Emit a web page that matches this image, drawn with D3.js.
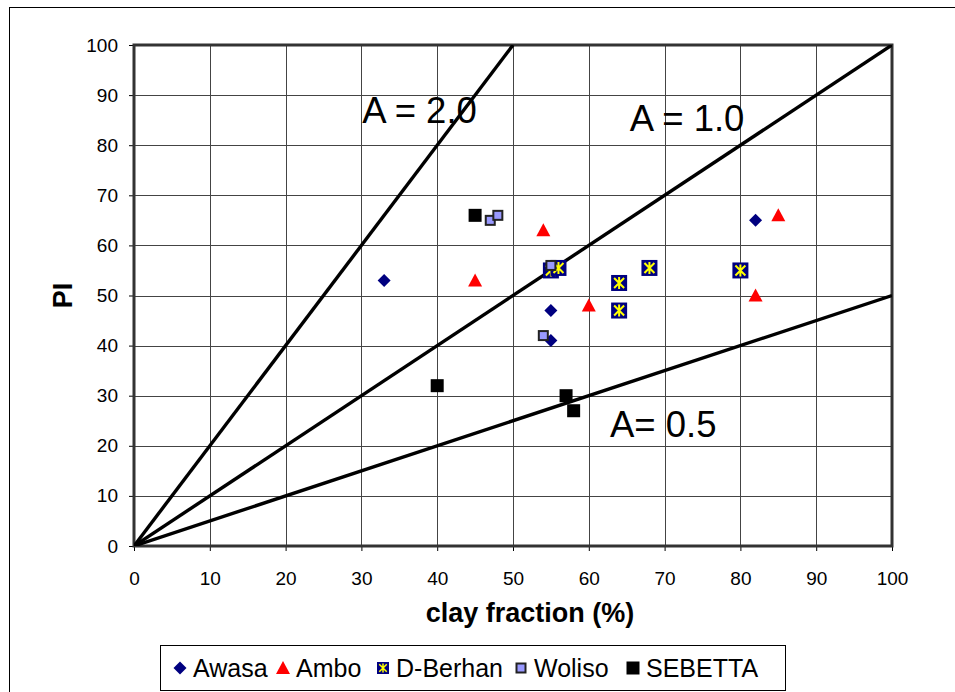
<!DOCTYPE html>
<html>
<head>
<meta charset="utf-8">
<script src="https://cdn.jsdelivr.net/npm/d3@7"></script>
<style>
  body { margin: 0; background: #fff; }
  svg { font-family: "Liberation Sans", Arial, sans-serif; }
</style>
</head>
<body>
<div id="chart"></div>
<script>
// data: [clay fraction, PI]
const awasa = [[33, 53], [55, 47], [55, 41], [82, 65]];
const ambo = [[45, 53], [54, 63], [60, 48], [85, 66], [82, 50]];
const dBerhan = [[55, 55], [56, 55.5], [64, 52.5], [64, 47], [68, 55.5], [80, 55]];
const woliso = [[47, 65], [48, 66], [55, 56], [54, 42]];
const sebetta = [[45, 66], [40, 32], [57, 30], [58, 27]];

// activity lines A = PI / clay
const activity = [2.0, 1.0, 0.5];
const activityLabels = ["A = 2.0", "A = 1.0", "A= 0.5"];
const seriesNames = ["Awasa", "Ambo", "D-Berhan", "Woliso", "SEBETTA"];
const ticks = d3.range(0, 101, 10);

const width = 955;
const height = 692;

const svg = d3.select("#chart").append("svg")
    .attr("width", width)
    .attr("height", height);

// outer frame
svg.append("rect")
    .attr("x", 9.5).attr("y", 7.5)
    .attr("width", 960).attr("height", 700)
    .attr("fill", "none").attr("stroke", "#000").attr("stroke-width", 1);

const x = d3.scaleLinear().domain([0, 100]).range([134, 892]);
const y = d3.scaleLinear().domain([0, 100]).range([546, 45]);

// grid
const grid = svg.append("g").attr("stroke", "#444").attr("stroke-width", 1);
grid.selectAll(".gx").data(ticks).enter().append("line")
    .attr("x1", d => Math.round(x(d)) + 0.5).attr("x2", d => Math.round(x(d)) + 0.5)
    .attr("y1", y(0)).attr("y2", y(100));
grid.selectAll(".gy").data(ticks).enter().append("line")
    .attr("y1", d => Math.round(y(d)) + 0.5).attr("y2", d => Math.round(y(d)) + 0.5)
    .attr("x1", x(0)).attr("x2", x(100));

// axes
const xAxis = svg.append("g")
    .attr("transform", `translate(0,${y(0)})`)
    .call(d3.axisBottom(x).tickValues(ticks).tickSize(5).tickPadding(21));
const yAxis = svg.append("g")
    .attr("transform", `translate(${x(0)},0)`)
    .call(d3.axisLeft(y).tickValues(ticks).tickSize(5).tickPadding(11));
[xAxis, yAxis].forEach(a => {
    a.select(".domain").remove();
    a.selectAll("line").attr("stroke", "#000");
    a.selectAll("text").attr("font-size", 19).attr("fill", "#000")
        .attr("font-family", "Liberation Sans, Arial, sans-serif");
});

// plot border
svg.append("rect")
    .attr("x", x(0)).attr("y", y(100))
    .attr("width", x(100) - x(0)).attr("height", y(0) - y(100))
    .attr("fill", "none").attr("stroke", "#333").attr("stroke-width", 3);

// activity labels (drawn under the lines)
const labelPos = [[30.1, 84.4], [65.4, 82.8], [62.8, 21.8]];
svg.selectAll(".alab").data(activityLabels).enter().append("text")
    .attr("x", (d, i) => x(labelPos[i][0]))
    .attr("y", (d, i) => y(labelPos[i][1]))
    .attr("font-size", 36.5)
    .text(d => d);

// activity lines, clipped to the plot
svg.append("clipPath").attr("id", "plotclip").append("rect")
    .attr("x", x(0)).attr("y", y(100))
    .attr("width", x(100) - x(0)).attr("height", y(0) - y(100));
svg.append("g").attr("clip-path", "url(#plotclip)")
    .selectAll("line").data(activity).enter().append("line")
    .attr("x1", x(0)).attr("y1", y(0))
    .attr("x2", d => x(Math.min(100, 100 / d)))
    .attr("y2", d => y(Math.min(100, 100 / d) * d))
    .attr("stroke", "#000").attr("stroke-width", 3.4);

// marker drawers
function diamond(g) {
    g.append("path").attr("d", "M0,-6.5L6.5,0L0,6.5L-6.5,0Z").attr("fill", "#000080");
}
function triangle(g) {
    g.append("path").attr("d", "M0,-7L7,6L-7,6Z").attr("fill", "#ff0000");
}
function starBox(g) {
    g.append("rect").attr("x", -8).attr("y", -8).attr("width", 16).attr("height", 16).attr("fill", "#000080");
    g.append("path")
        .attr("d", "M-5,-5L5,5M-5,5L5,-5M0,-6L0,6")
        .attr("stroke", "#ffff00").attr("stroke-width", 2);
}
function smallBox(g) {
    g.append("rect").attr("x", -4.5).attr("y", -4.5).attr("width", 9).attr("height", 9)
        .attr("fill", "#9999ff").attr("stroke", "#222").attr("stroke-width", 2);
}
function blackBox(g) {
    g.append("rect").attr("x", -6.5).attr("y", -6.5).attr("width", 13).attr("height", 13).attr("fill", "#000");
}

const series = [awasa, ambo, dBerhan, woliso, sebetta];
const drawers = [diamond, triangle, starBox, smallBox, blackBox];

series.forEach((pts, i) => {
    svg.append("g").selectAll("g").data(pts).enter().append("g")
        .attr("transform", d => `translate(${x(d[0])},${y(d[1])})`)
        .each(function () { drawers[i](d3.select(this)); });
});

// axis titles
svg.append("text")
    .attr("x", 530).attr("y", 622)
    .attr("text-anchor", "middle").attr("font-size", 27).attr("font-weight", "bold")
    .text("clay fraction (%)");
svg.append("text")
    .attr("transform", `translate(72,${(y(0) + y(100)) / 2}) rotate(-90)`)
    .attr("text-anchor", "middle").attr("font-size", 27).attr("font-weight", "bold")
    .text("PI");

// legend
const legend = svg.append("g");
legend.append("rect")
    .attr("x", 160.5).attr("y", 645.5).attr("width", 625).attr("height", 45)
    .attr("fill", "#fff").attr("stroke", "#000").attr("stroke-width", 1);
const legendX = [180, 283, 383, 521, 633];
seriesNames.forEach((name, i) => {
    const item = legend.append("g").attr("transform", `translate(${legendX[i]},668)`);
    const m = item.append("g").attr("transform", i === 2 ? "scale(0.75)" : null);
    drawers[i](m);
    item.append("text").attr("x", 13).attr("y", 9)
        .attr("font-size", 25).text(name);
});
</script>
</body>
</html>
